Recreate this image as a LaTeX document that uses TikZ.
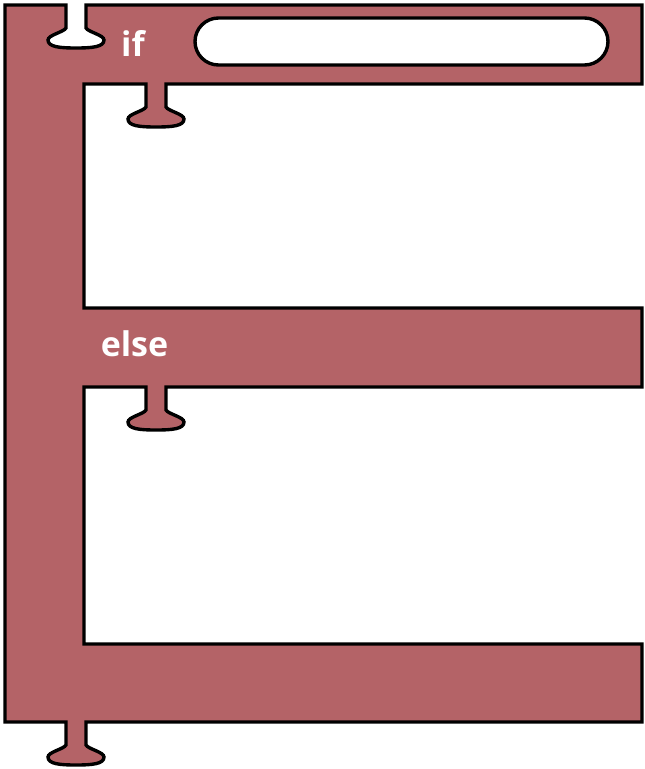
\documentclass[tikz,border=0pt]{standalone}
\usepackage{fontspec}
\setmainfont{Open Sans}
\definecolor{blockred}{RGB}{180,99,103}
\begin{document}
\begin{tikzpicture}[x=1pt,y=-1pt,
  block/.style={fill=blockred,draw=black,line width=3.4pt,line join=miter},
  slot/.style={fill=white,draw=black,line width=3.4pt,rounded corners=23.5pt},
  lbl/.style={text=white,font=\fontsize{34}{36}\selectfont\bfseries,inner sep=0pt,anchor=base},
  tabL/.style={insert path={-- ++(0,23) .. controls +(-2,4) and +(0,-5) .. ++(-18,12)
     .. controls +(0,7) and +(-16,0) .. ++(28,8) .. controls +(16,0) and +(0,7) .. ++(28,-8)
     .. controls +(0,-5) and +(2,4) .. ++(-18,-12) -- ++(0,-23)}},
  tabR/.style={insert path={-- ++(0,23) .. controls +(2,4) and +(0,-5) .. ++(18,12)
     .. controls +(0,7) and +(16,0) .. ++(-28,8) .. controls +(-16,0) and +(0,7) .. ++(-28,-8)
     .. controls +(0,-5) and +(-2,4) .. ++(18,-12) -- ++(0,-23)}}]
\useasboundingbox (0,0) rectangle (645,769);
\draw[block] (5,5) -- (66,5) [tabL] -- (642,5) -- (642,84) -- (166,84) [tabR]
  -- (84,84) -- (84,308) -- (642,308) -- (642,387) -- (166,387) [tabR]
  -- (84,387) -- (84,644) -- (642,644) -- (642,722) -- (86,722) [tabR]
  -- (5,722) -- cycle;
\draw[slot] (195,18) rectangle (608,65);
\node[lbl] (iflabel) at (133,56) {if};
\node[lbl] (elselabel) at (134.5,356) {else};
\end{tikzpicture}
\end{document}
